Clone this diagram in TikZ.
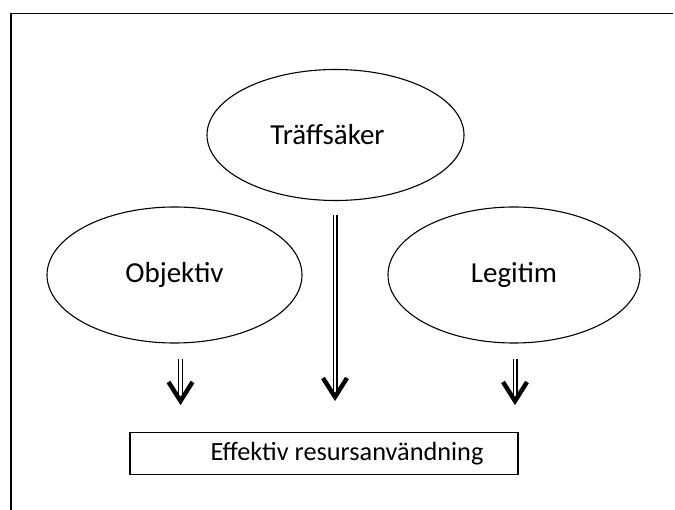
\documentclass[tikz,border=0pt]{standalone}
\usepackage{fontspec}
\setmainfont{Carlito}
\usetikzlibrary{shapes.geometric}
\begin{document}
\begin{tikzpicture}[x=1pt,y=-1pt,
  oval/.style={draw, ellipse, line width=1.1pt, inner sep=0pt, font=\fontsize{29}{34}\selectfont},
  boxnode/.style={draw, rectangle, line width=1.1pt, minimum width=388pt, minimum height=42pt, inner sep=0pt},
  shaft/.style={double, double distance=2.6pt, line width=1.2pt},
  head/.style={line width=4.4pt, line cap=butt, line join=miter}]
\useasboundingbox (0,0) rectangle (675,510);
% frame
\draw[line width=1.4pt] (11,510) -- (11,13.5) -- (673,13.5);
% ellipses
\node[oval, minimum width=257pt, minimum height=131pt] (t) at (335.5,135) {\hspace{-16pt}Träffsäker};
\node[oval, minimum width=255pt, minimum height=136pt] (o) at (174.5,275) {Objektiv};
\node[oval, minimum width=252pt, minimum height=136pt] (l) at (514,275) {Legitim};
% box
\node[boxnode, label={[xshift=23pt, font=\fontsize{26.3}{30}\selectfont]center:Effektiv resursanvändning}] (b) at (324,453.5) {};
% arrow coordinates
\coordinate (ts) at (335,215);
\coordinate (tt) at (335,397);
\coordinate (os) at (180.5,359);
\coordinate (ot) at (180.5,401);
\coordinate (ls) at (515,359);
\coordinate (lt) at (515,401);
% arrows
\foreach \s/\e in {ts/tt, os/ot, ls/lt}{
  \draw[shaft] (\s) -- ([yshift=2pt]\e);
  \draw[head] ([shift={(-12,-19)}]\e) -- (\e) -- ([shift={(12,-19)}]\e);
}
\end{tikzpicture}
\end{document}
